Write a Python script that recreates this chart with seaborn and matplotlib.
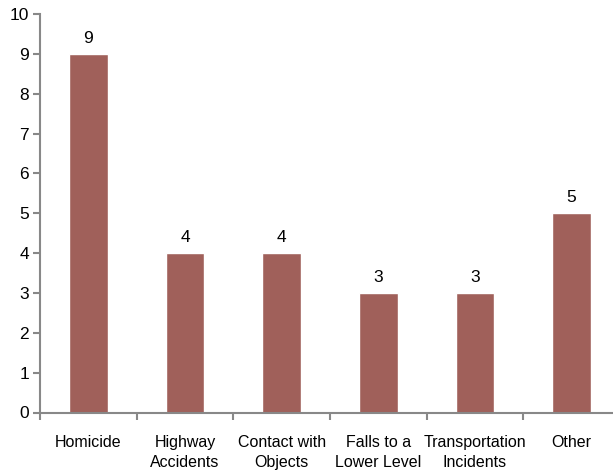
import seaborn as sns
import matplotlib.pyplot as plt
import pandas as pd
import numpy as np

# categories and counts
categories = ["Homicide", "Highway\nAccidents", "Contact with\nObjects",
              "Falls to a\nLower Level", "Transportation\nIncidents", "Other"]
counts = [9, 4, 4, 3, 3, 5]
yticks = list(range(0, 11))

df = pd.DataFrame({"cause": categories, "count": counts})

sns.set_style("white")
plt.rcParams['font.family'] = ['Liberation Sans Narrow', 'Liberation Sans', 'DejaVu Sans']
plt.rcParams['text.color'] = 'black'
plt.rcParams['xtick.labelcolor'] = 'black'
plt.rcParams['ytick.labelcolor'] = 'black'

fig = plt.figure(figsize=(6.13, 4.74), dpi=100)
ax = fig.add_axes([40 / 613, 61.5 / 474, 580 / 613, 398.5 / 474])

sns.barplot(data=df, x="cause", y="count", color="#A0605A", saturation=1,
            width=0.4, ax=ax)

# value labels above each bar
for i, v in enumerate(counts):
    ax.annotate(str(v), (i, v), xytext=(0, 6), textcoords="offset points",
                ha="center", va="bottom", fontsize=12.5)

ax.set_ylim(0, 10)
ax.set_xlim(-0.5, len(categories) - 0.5)
ax.set_yticks(yticks)
ax.set_yticklabels([str(t) for t in yticks], fontsize=12.5)

# boundary ticks (major) and centered labels (minor)
ax.set_xticks(np.arange(-0.5, len(categories), 1.0))
ax.set_xticklabels([])
ax.set_xticks(range(len(categories)), minor=True)
ax.set_xticklabels(categories, minor=True, fontsize=11.5, linespacing=1.45)
ax.tick_params(axis="x", which="major", direction="out", length=5, width=1.5,
               color="#888888", bottom=True)
ax.tick_params(axis="x", which="minor", length=0, pad=16)
ax.tick_params(axis="y", direction="out", length=5, width=1.5,
               color="#888888", left=True, pad=3)

ax.set_xlabel("")
ax.set_ylabel("")
for side in ["top", "right"]:
    ax.spines[side].set_visible(False)
for side in ["left", "bottom"]:
    ax.spines[side].set_color("#888888")
    ax.spines[side].set_linewidth(1.5)

fig.savefig("out.png", dpi=100)
